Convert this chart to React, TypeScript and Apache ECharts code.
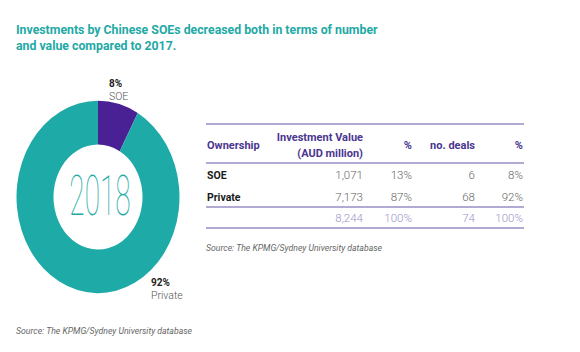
import React, { useEffect, useRef } from 'react';
import * as echarts from 'echarts';

// ---- data ----
const titleLines = [
  'Investments by Chinese SOEs decreased both in terms of number',
  'and value compared to 2017.',
];
const yearLabel = '2018';
const ownership = ['SOE', 'Private'];
const investmentValue = [1071, 7173];
const valuePct = [13, 87];
const dealCounts = [6, 68];
const dealPct = [8, 92];
const headers = ['Ownership', 'Investment Value\n(AUD million)', '%', 'no. deals', '%'];
const sourceText = 'Source: The KPMG/Sydney University database';

const TEAL = '#1eaaa6';
const PURPLE = '#4a2195';
const FONT = 'Roboto';

const fmt = (n: number) => n.toLocaleString('en-US');

export default function App() {
  const pieRef = useRef<HTMLDivElement>(null);
  const mainRef = useRef<HTMLDivElement>(null);

  useEffect(() => {
    document.body.style.margin = '0';
    const pie = echarts.init(pieRef.current!, undefined, { renderer: 'svg' });
    const main = echarts.init(mainRef.current!, undefined, { renderer: 'svg' });

    pie.setOption({
      animation: false,
      series: [
        {
          type: 'pie',
          radius: [44.5, 81.5],
          center: [98, 100],
          startAngle: 90,
          clockwise: true,
          silent: true,
          label: { show: false },
          labelLine: { show: false },
          itemStyle: { borderWidth: 0 },
          data: ownership.map((name, i) => ({
            name,
            value: dealCounts[i],
            itemStyle: { color: i === 0 ? PURPLE : TEAL },
          })),
        },
      ],
    });

    const totalDeals = dealCounts.reduce((a, b) => a + b, 0);
    const pieShares = dealCounts.map((v) => Math.round((v / totalDeals) * 100));

    const g: any[] = [];
    // title
    titleLines.forEach((t, i) => {
      g.push({
        type: 'text',
        x: 16,
        y: 30 + i * 16,
        style: { text: t, fill: '#22a9a5', font: `bold 12.3px ${FONT}`, verticalAlign: 'middle', align: 'left' },
      });
    });
    // year in donut center (condensed, tall)
    g.push({
      type: 'text',
      x: 100,
      y: 196,
      scaleX: 0.7,
      scaleY: 1.38,
      style: { text: yearLabel, fill: TEAL, font: `100 40px ${FONT}`, align: 'center', verticalAlign: 'middle' },
    });
    // donut labels
    const lblPos = [
      { x: 109, y: 83 },
      { x: 151, y: 282 },
    ];
    ownership.forEach((name, i) => {
      g.push({
        type: 'text',
        x: lblPos[i].x,
        y: lblPos[i].y,
        style: { text: `${pieShares[i]}%`, fill: '#222', font: `bold 10px ${FONT}`, verticalAlign: 'middle' },
      });
      g.push({
        type: 'text',
        x: lblPos[i].x,
        y: lblPos[i].y + 13,
        style: { text: name, fill: '#555', font: `300 10.5px ${FONT}`, verticalAlign: 'middle' },
      });
    });

    // table
    const colX = [207, 363, 412, 475, 523];
    const lineY = [124, 163, 207, 228];
    const LINE = '#9a8ec6';
    lineY.forEach((y) =>
      g.push({ type: 'line', shape: { x1: 206, y1: y, x2: 524, y2: y }, style: { stroke: LINE, lineWidth: 1.5 } })
    );
    const HEAD = '#4b3690';
    headers.forEach((h, i) => {
      g.push({
        type: 'text',
        x: colX[i],
        y: 145,
        style: {
          text: h,
          fill: HEAD,
          font: `bold 11px ${FONT}`,
          align: i === 0 ? 'left' : 'right',
          verticalAlign: 'middle',
          lineHeight: 16,
        },
      });
    });
    const rowY = [175, 197];
    ownership.forEach((name, r) => {
      g.push({
        type: 'text',
        x: colX[0],
        y: rowY[r],
        style: { text: name, fill: '#1a1a1a', font: `bold 10.5px ${FONT}`, verticalAlign: 'middle' },
      });
      const cells = [fmt(investmentValue[r]), `${valuePct[r]}%`, fmt(dealCounts[r]), `${dealPct[r]}%`];
      cells.forEach((c, j) => {
        g.push({
          type: 'text',
          x: colX[j + 1],
          y: rowY[r],
          style: { text: c, fill: '#666', font: `300 11.5px ${FONT}`, align: 'right', verticalAlign: 'middle' },
        });
      });
    });
    const sum = (a: number[]) => a.reduce((x, y) => x + y, 0);
    const totals = [fmt(sum(investmentValue)), `${sum(valuePct)}%`, fmt(sum(dealCounts)), `${sum(dealPct)}%`];
    totals.forEach((c, j) => {
      g.push({
        type: 'text',
        x: colX[j + 1],
        y: 218,
        style: { text: c, fill: '#9d92c8', font: `300 11.5px ${FONT}`, align: 'right', verticalAlign: 'middle' },
      });
    });
    // sources
    [
      { x: 206, y: 248 },
      { x: 16, y: 331 },
    ].forEach((p) =>
      g.push({
        type: 'text',
        x: p.x,
        y: p.y,
        style: { text: sourceText, fill: '#666', font: `italic 8.7px ${FONT}`, verticalAlign: 'middle' },
      })
    );

    main.setOption({ animation: false, graphic: g });

    return () => {
      pie.dispose();
      main.dispose();
    };
  }, []);

  return (
    <div style={{ position: 'relative', width: 580, height: 352, background: '#fff', overflow: 'hidden' }}>
      <div
        ref={pieRef}
        style={{
          position: 'absolute',
          left: 0,
          top: 97,
          width: 200,
          height: 200,
          transform: 'scaleY(1.18)',
          transformOrigin: '50% 50%',
        }}
      />
      <div ref={mainRef} style={{ position: 'absolute', left: 0, top: 0, width: 580, height: 352 }} />
    </div>
  );
}
